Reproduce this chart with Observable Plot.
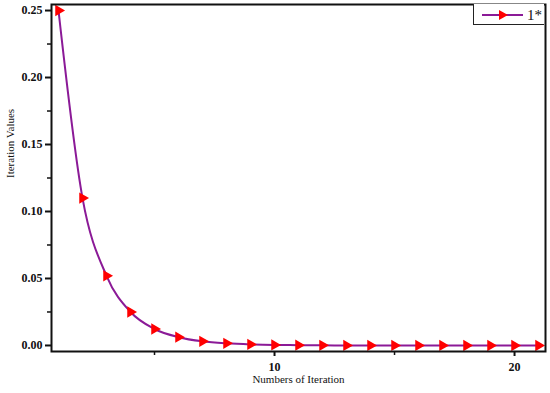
<!DOCTYPE html>
<html><head><meta charset="utf-8">
<script src="https://cdn.jsdelivr.net/npm/d3@7"></script>
<script src="https://cdn.jsdelivr.net/npm/@observablehq/plot@0.6"></script>
<style>
body{margin:0;background:#fff;}
#wrap{position:relative;width:550px;height:393px;}
#legend{position:absolute;left:473px;top:4px;width:71px;height:21px;border:1px solid #222;border-top:none;border-right:none;background:#fff;box-sizing:border-box;}
#chart svg text{font-family:'Liberation Serif',serif;}
</style>
</head><body>
<div id="wrap"><div id="chart"></div>
<div id="legend"><svg width="72" height="21">
<line x1="8" y1="11" x2="49" y2="11" stroke="#8b1a97" stroke-width="2"/>
<path d="M25,6 L34,11 L25,16 Z" fill="#ff0000"/>
<text x="53" y="16" font-family="Liberation Serif" font-size="15" fill="#111">1*</text>
</svg></div>
</div>
<script>
const iterations = [1,2,3,4,5,6,7,8,9,10,11,12,13,14,15,16,17,18,19,20,21];
const values = [0.25,0.11,0.052,0.025,0.0123,0.0062,0.0031,0.0016,0.0008,0.0004,0.0002,0.0001,0.00005,0.00003,0.00002,0.00001,0.00001,0,0,0,0];
const yTicks = [0,0.05,0.10,0.15,0.20,0.25];
const yMinor = [0.025,0.075,0.125,0.175,0.225];
const xTicks = [10,20];
const xMinor = [5,15];
const seriesName = "1*";

const data = iterations.map((x,i)=>({x, y: values[i]}));
const font = "'Liberation Serif', serif";
const chart = Plot.plot({
  width: 550, height: 393,
  marginLeft: 51, marginRight: 5, marginTop: 4, marginBottom: 42,
  style: {fontFamily: font, fontSize: "12px", color: "#111", background: "#fff"},
  x: {domain: [0.708, 21.29]},
  y: {domain: [-0.0045, 0.2545]},
  marks: [
    Plot.axisY({ticks: yTicks, tickFormat: d3.format(".2f"), tickSize: 6, tickPadding: 3, strokeWidth: 2, fontWeight: "bold", fontFamily: font, label: null}),
    Plot.axisY({ticks: yMinor, tickFormat: () => "", tickSize: 4, strokeWidth: 1.5, label: null}),
    Plot.axisX({ticks: xTicks, tickSize: 5, tickPadding: 6, strokeWidth: 2, fontWeight: "bold", fontFamily: font, label: null}),
    Plot.axisX({ticks: xMinor, tickFormat: () => "", tickSize: 4, strokeWidth: 1.5, label: null}),
    Plot.text(["Iteration Values"], {frameAnchor: "left", dx: -41, rotate: -90, fontSize: 11, fontFamily: font}),
    Plot.text(["Numbers of Iteration"], {frameAnchor: "bottom", dy: 31, fontSize: 11, fontFamily: font}),
    Plot.line(data, {x: "x", y: "y", stroke: "#8b1a97", strokeWidth: 2, curve: "monotone-x"}),
    Plot.dot(data, {x: "x", y: "y", symbol: "triangle", rotate: 90, r: 4.2, fill: "#ff0000", stroke: "none"}),
    Plot.frame({stroke: "#111", strokeWidth: 2})
  ]
});
document.getElementById("chart").append(chart);
</script>
</body></html>
